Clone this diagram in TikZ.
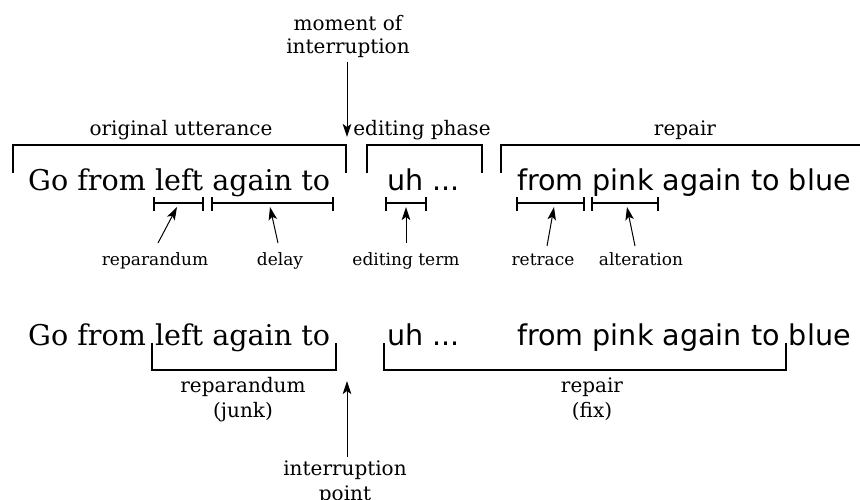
\documentclass[tikz,border=0pt]{standalone}
\usepackage{fontspec}
\setmainfont{DejaVu Serif}
\newfontfamily\sansf{DejaVu Sans}
\usetikzlibrary{arrows.meta}
\begin{document}
\begin{tikzpicture}[x=1pt,y=-1pt,
  big/.style={inner sep=0pt, anchor=base west, font=\fontsize{28.6}{34}\selectfont},
  bigs/.style={inner sep=0pt, anchor=base west, font=\sansf\fontsize{28.6}{34}\selectfont},
  mid/.style={inner sep=0pt, anchor=base, font=\fontsize{20}{23}\selectfont},
  small/.style={inner sep=0pt, anchor=base, font=\fontsize{17}{20}\selectfont},
  brk/.style={line width=1.8pt},
  sbrk/.style={line width=1.3pt},
  arr/.style={line width=1pt, -{Stealth[length=13pt,width=8.5pt,inset=3pt]}}]
\useasboundingbox (0,0) rectangle (860,499);

% top labels
\node[mid] (mom1) at (348,30) {moment of};
\node[mid] (mom2) at (348,53) {interruption};
\node[mid] (orig) at (181,135) {original utterance};
\node[mid] (edph) at (422,135) {editing phase};
\node[mid] (rep) at (685,135) {repair};

% top brackets
\draw[brk] (13,173) -- (13,145) -- (346,145) -- (346,173);
\draw[brk] (367,173) -- (367,145) -- (482,145) -- (482,173);
\draw[brk] (501,173) -- (501,145) -- (870,145);

% first sentence
\node[big] (s1a) at (28,190) {Go from left again to};
\node[bigs] (s1b) at (387,190) {uh ...};
\node[bigs] (s1c) at (517,190) {from pink again to blue};

% small brackets
\foreach \a/\b/\n in {154/203/r,212/333/d,386/426/e,517/584/t,592/658/l}{
  \draw[sbrk] (\a,197) -- (\a,211);
  \draw[sbrk] (\b,197) -- (\b,211);
  \draw[sbrk] (\a,203) -- (\b,203);
}
\coordinate (tr) at (177,207);
\coordinate (td) at (270,207);
\coordinate (te) at (406,207);
\coordinate (tt) at (554,207);
\coordinate (tl) at (627,207);
\coordinate (fr) at (158,243);
\coordinate (fd) at (278,243);
\coordinate (fe) at (406,243);
\coordinate (ft) at (547,246);
\coordinate (fl) at (635,246);

\node[small] (lr) at (155,265) {reparandum};
\node[small] (ld) at (280,265) {delay};
\node[small] (le) at (406,265) {editing term};
\node[small] (lt) at (543,265) {retrace};
\node[small] (ll) at (641,265) {alteration};

\draw[arr] (fr) -- (tr);
\draw[arr] (fd) -- (td);
\draw[arr] (fe) -- (te);
\draw[arr] (ft) -- (tt);
\draw[arr] (fl) -- (tl);

% moment arrow
\coordinate (mA) at (347,62);
\coordinate (mB) at (347,137);
\draw[arr] (mA) -- (mB);

% second sentence
\node[big] (s2a) at (28,345) {Go from left again to};
\node[bigs] (s2b) at (387,345) {uh ...};
\node[bigs] (s2c) at (517,345) {from pink again to blue};

\draw[brk] (152,343) -- (152,370) -- (336,370) -- (336,343);
\draw[brk] (384,343) -- (384,370) -- (786,370) -- (786,343);

\node[mid] (j1) at (243,392) {reparandum};
\node[mid] (j2) at (243,417) {(junk)};
\node[mid] (f1) at (592,392) {repair};
\node[mid] (f2) at (592,417) {(fix)};

\node[mid] (ip1) at (345,475) {interruption};
\node[mid] (ip2) at (345,500) {point};
\coordinate (iA) at (347,457);
\coordinate (iB) at (347,381);
\draw[arr] (iA) -- (iB);
\end{tikzpicture}
\end{document}
